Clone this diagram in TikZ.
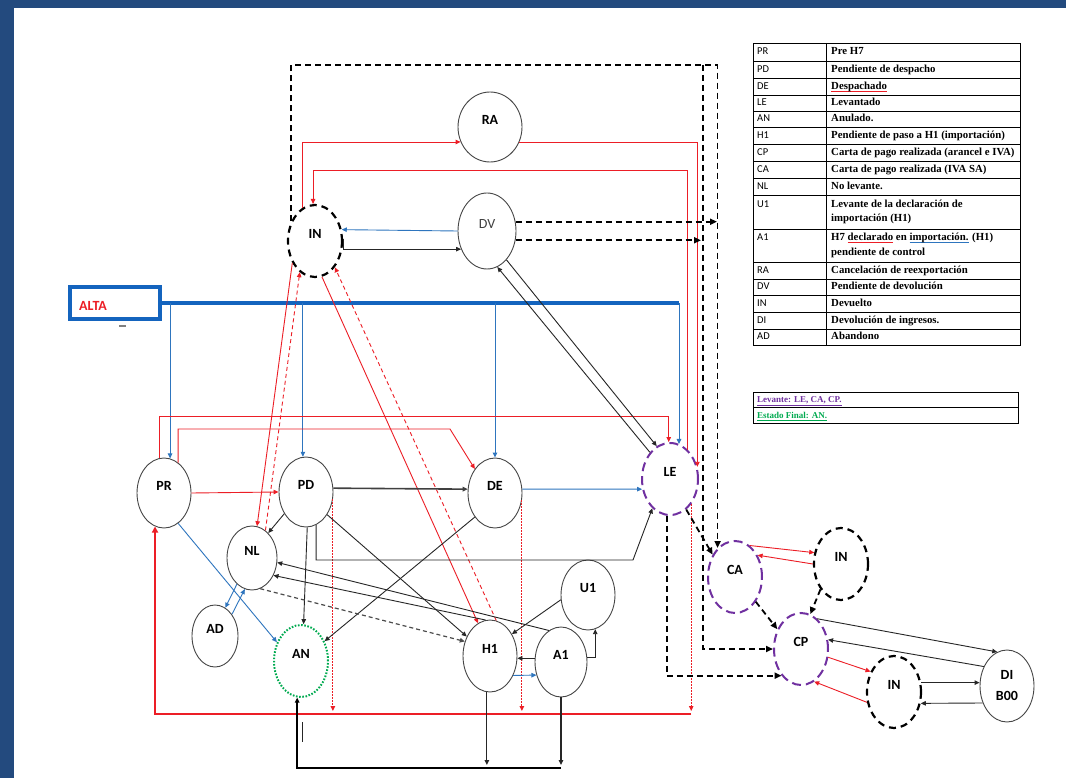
\documentclass[tikz,border=0pt]{standalone}
\usepackage{fontspec}
\setmainfont{Liberation Serif}
\newfontfamily\carl{Carlito}
\usetikzlibrary{arrows.meta,shapes.geometric,calc}
\definecolor{myred}{RGB}{236,30,38}
\definecolor{myblue}{RGB}{46,117,190}
\definecolor{altablue}{RGB}{20,100,190}
\definecolor{mypurple}{RGB}{112,48,160}
\definecolor{mygreen}{RGB}{0,170,80}
\definecolor{framebg}{RGB}{35,74,126}
\definecolor{circ}{RGB}{70,70,70}
\newcommand\spellul[2]{\setbox0\hbox{#2}\rlap{\color{#1}\rule[-2.2pt]{\wd0}{0.7pt}}#2}
\tikzset{
  tip/.style={-{Triangle[length=5pt,width=4.5pt]}},
  bigtip/.style={-{Triangle[length=7pt,width=6pt]}},
  st/.style={ellipse, draw=circ, line width=0.9pt, inner sep=0pt,
    font=\carl\bfseries\fontsize{14}{14}\selectfont},
  sl/.style={st, text height=7pt, text depth=12pt},
  sz/.style 2 args={minimum width=#1, minimum height=#2},
  indash/.style={draw=black, line width=2.2pt, dash pattern=on 7pt off 5pt},
  pdash/.style={draw=mypurple, line width=2pt, dash pattern=on 9pt off 5pt},
  gdot/.style={draw=mygreen, line width=2pt, dash pattern=on 1.6pt off 1.6pt},
  ln/.style={draw=black!85, line width=0.9pt},
  ln2/.style={draw=black!75, line width=1.6pt},
  rl/.style={draw=myred, line width=0.9pt},
  bl/.style={draw=myblue, line width=0.9pt},
  bdash/.style={draw=black, line width=1.8pt, dash pattern=on 6pt off 4pt},
  rdot/.style={draw=myred, line width=1pt, dash pattern=on 1.5pt off 1.5pt},
  rdash/.style={draw=myred, line width=0.9pt, dash pattern=on 4pt off 3pt},
  gdash/.style={draw=black!70, line width=1.2pt, dash pattern=on 4pt off 3pt},
  redbar/.style={draw=myred, line width=2.6pt},
  bbar/.style={draw=black, line width=2pt},
  altaline/.style={draw=altablue, line width=3.5pt},
  cd/.style={anchor=west, inner sep=0pt, font=\carl\fontsize{10.5}{12}\selectfont, text height=1.5ex, text depth=.25ex},
  ds/.style={anchor=west, inner sep=0pt, font=\bfseries\fontsize{10.8}{14}\selectfont, text height=1.5ex, text depth=.25ex},
  ds2/.style={anchor=west, inner sep=0pt, align=left, font=\bfseries\fontsize{10.8}{14.5}\selectfont},
  lgd/.style={anchor=west, inner sep=0pt, font=\bfseries\fontsize{9}{12}\selectfont, text height=1.5ex, text depth=.25ex},
}
\begin{document}
\begin{tikzpicture}[x=1pt,y=-1pt]
\useasboundingbox (0,0) rectangle (1066,778);
\fill[framebg] (0,0) rectangle (1066,778);
\fill[white] (14,8) rectangle (1066,778);

% ---------- nodes ----------
\node[sl, sz={64pt}{70pt}] (RA) at (490,127) {RA};
\node[sl, indash, sz={54pt}{72pt}] (IN1) at (315,241) {IN};
\node[sl, sz={58pt}{76pt}, font=\carl\fontsize{14}{14}\selectfont, text=black!75] (DV) at (487,231) {DV};
\node[sl, sz={54pt}{70pt}] (PR) at (164,493) {PR};
\node[sl, sz={54pt}{70pt}] (PD) at (306,492) {PD};
\node[sl, sz={54pt}{70pt}] (DE) at (495,493) {DE};
\node[sl, pdash, sz={56pt}{72pt}] (LE) at (670,479) {LE};
\node[sl, sz={50pt}{64pt}] (NL) at (252,558) {NL};
\node[sl, sz={46pt}{62pt}] (AD) at (215,636) {AD};
\node[sl, gdot, sz={54pt}{72pt}] (AN) at (301,661) {AN};
\node[sl, sz={54pt}{70pt}] (U1) at (588,595) {U1};
\node[sl, sz={54pt}{72pt}] (H1) at (490,656) {H1};
\node[sl, sz={52pt}{70pt}] (A1) at (561,662) {A1};
\node[sl, pdash, sz={54pt}{72pt}] (CA) at (735,577) {CA};
\node[sl, indash, sz={54pt}{72pt}] (IN2) at (841,564) {IN};
\node[sl, pdash, sz={54pt}{72pt}] (CP) at (801,649) {CP};
\node[sl, indash, sz={54pt}{72pt}] (IN3) at (894,692) {IN};
\node[st, sz={54pt}{72pt}, align=center, font=\carl\bfseries\fontsize{14}{21}\selectfont] (DI) at (1007,686) {DI\\B00};

% ALTA box
\node[draw=altablue, line width=3.5pt, minimum width=90pt, minimum height=32pt, inner sep=0pt] (alta) at (115,303) {};
\node[anchor=west, inner sep=0pt, text=myred, font=\carl\bfseries\fontsize{14}{14}\selectfont] (altatxt) at (79,306) {ALTA};
\draw[gray, line width=1.5pt] (119,326) -- (126,326);

% ---------- helper coordinates ----------
\coordinate (r1) at (0,416);
\coordinate (r2) at (450,429);
\coordinate (r3) at (0,170);
\coordinate (ytop) at (0,65);
\coordinate (xin) at (703,65);
\coordinate (xout) at (717,0);
\coordinate (xin2) at (701,0);
\coordinate (barY) at (0,714);
\coordinate (barY2) at (0,711);
\coordinate (pl) at (633,560);
\coordinate (bb) at (0,768);
\coordinate (bbY) at (0,765);
\coordinate (acorner) at (679,303);

% ---------- ALTA lines ----------
\draw[altaline] (alta.east) -- (acorner);
\draw[bl,tip] (acorner) -- (acorner |- LE.75);
\draw[bl,tip] (PR.80 |- acorner) -- (PR.80);
\draw[bl,tip] (PD.95 |- acorner) -- (PD.95);
\draw[bl,tip] (DE.north |- acorner) -- (DE.north);

% ---------- red ----------
\draw[rl,tip] (PR.97) -- (PR.97 |- r1) -| (LE.92);
\draw[rl,tip] (PR.65) |- (r2) -- (DE.130);
\draw[rl,tip] (PR.east) -- (PD.west);
\draw[rl,tip] (IN1.110) |- (RA.207);
\draw[rl,tip] (RA.-27) -| (LE.24);
\draw[rl,tip] (LE.59) |- (IN1.93 |- r3) -- (IN1.93);
\draw[rl,tip] (IN1.224) -- (NL.81);
\draw[rdash,tip] (NL.64) -- (IN1.244);
\draw[rl,tip] (IN1.-79) -- (H1.110);
\draw[rdash,tip] (H1.80) -- (IN1.-53);
\draw[rdot,tip] (PD.-15) -- (PD.-15 |- barY2);
\draw[rdot,tip] (DE.-15) -- (DE.-15 |- barY2);
\draw[rdot,tip] (LE.-50) -- (LE.-50 |- barY2);
\draw[redbar,-{Triangle[length=6pt,width=6pt]}] (LE.-50 |- barY) -| (PR.-105);

% ---------- IN / DV ----------
\draw[bl,tip] (DV.west) -- (IN1.23);
\draw[ln,tip] (IN1.5) |- (DV.215);
\draw[bdash,bigtip] (DV.18) -- (DV.18 -| xout);
\draw[bdash,bigtip] (DV.-18) -- (DV.-18 -| xin2);
\draw[bdash,bigtip] (IN1.140) |- (CA.121 |- ytop) -- (CA.121);
\draw[bdash,bigtip] (xin) |- (CP.west);
\draw[ln,tip] (DV.-56) -- (LE.112);
\draw[ln,tip] (LE.127) -- (DV.-74);

% ---------- right cluster ----------
\draw[bdash,bigtip] (LE.-95) |- (CP.234);
\draw[bdash,bigtip] (LE.-62) -- (CA.135);
\draw[bdash,bigtip] (CA.-50) -- (CP.140);
\draw[bdash,bigtip] (IN2.231) -- (CP.75);
\draw[rl,tip] (CA.65) -- (IN2.157);
\draw[rl,tip] (IN2.west) -- (CA.44);
\draw[rl,tip] (CP.-17) -- (IN3.139);
\draw[rl,tip] (IN3.201) -- (CP.-68);
\draw[ln,tip] (CP.62) -- (DI.106);
\draw[ln,tip] (DI.140) -- (CP.19);
\draw[ln,tip] (IN3.19) -- (IN3.19 -| DI.west);
\draw[ln,tip] (DI.215) -- (IN3.-23);

% ---------- middle ----------
\draw[bl,tip] (DE.8) -- (LE.200);
\draw[ln2,tip] (PD.8) -- (DE.172);
\draw[ln,tip] (PD.225) -- (NL.57);
\draw[ln,tip] (PD.-88) -- (AN.86);
\draw[ln,tip] (PD.-73) |- (pl) -- (LE.239);
\draw[ln,tip] (PD.-47) -- (H1.140);
\draw[ln,tip] (DE.230) -- (AN.40);
\draw[gdash,tip] (NL.-75) -- (H1.150);
\draw[ln,tip] (H1.97) -- (NL.-39);
\draw[ln,tip] (A1.111) -- (NL.-10);
\draw[ln,tip] (U1.190) -- (H1.45);
\draw[ln,tip] (A1.172) -- (A1.172 -| H1.east);
\draw[bl,tip] (H1.-40) -- (A1.208);
\draw[ln,tip] (A1.10) -| (U1.-78);
\draw[bl,tip] (PR.-65) -- (AN.142);
\draw[bl,tip] (NL.240) -- (AD.70);
\draw[bl,tip] (AD.52) -- (NL.257);

% ---------- bottom ----------
\draw[ln,line width=1.2pt,tip] (H1.-95) -- (H1.-95 |- bbY);
\draw[ln,line width=1.2pt,tip] (A1.-90) -- (A1.-90 |- bbY);
\draw[bbar,tip] (A1.-90 |- bb) -| (AN.-96);
\draw[ln] (302,722) -- (302,742);

% ---------- table ----------
\draw[line width=0.8pt] (753,43) rectangle (1020,345);
\draw[line width=0.8pt] (826,43) -- (826,345);
\foreach \y in {61,78,95,111,127,144,161,178,195,229,262,279,295,312,329}
  \draw[line width=0.6pt] (753,\y) -- (1020,\y);
\foreach \n/\yc/\c/\d in {
  1/52/PR/{Pre H7},
  2/69.5/PD/{Pendiente de despacho},
  3/86.5/DE/{\spellul{myred}{Despachado}},
  4/103/LE/{Levantado},
  5/119/AN/{Anulado.},
  6/135.5/H1/{Pendiente de paso a H1 (importación)},
  7/152.5/CP/{Carta de pago realizada (arancel e IVA)},
  8/169.5/CA/{Carta de pago realizada (IVA SA)},
  9/186.5/NL/{No levante.},
  12/270.5/RA/{Cancelación de reexportación},
  13/287/DV/{Pendiente de devolución},
  14/303.5/IN/{Devuelto},
  15/320.5/DI/{Devolución de ingresos.},
  16/337/AD/{Abandono}}
{
  \node[cd] (tc\n) at (757,\yc) {\c};
  \node[ds] (td\n) at (831,\yc) {\d};
}
\node[cd] (tc10) at (757,205) {U1};
\node[ds2] (td10) at (831,212) {Levante de la declaración de\\importación (H1)};
\node[cd] (tc11) at (757,238) {A1};
\node[ds2] (td11) at (831,245.5) {H7 \spellul{myred}{declarado} en \spellul{myblue}{importación.} (H1)\\pendiente de control};

% ---------- legend ----------
\draw[line width=0.8pt] (753,392) rectangle (1018,423);
\draw[line width=0.8pt] (753,407.5) -- (1018,407.5);
\node[lgd, text=mypurple] (lg1) at (757,400) {\underline{Levante: LE, CA, CP.}};
\node[lgd, text=mygreen] (lg2) at (757,415.5) {\underline{Estado Final: AN.}};
\end{tikzpicture}
\end{document}
